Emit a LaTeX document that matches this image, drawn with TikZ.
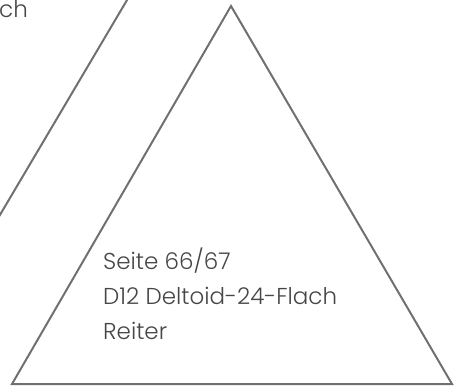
\documentclass[tikz,border=0pt]{standalone}
\usepackage{fontspec}
\setmainfont{Poppins}[UprightFont=* Light]
\usepackage{xcolor}
\definecolor{edgegray}{RGB}{112,112,112}
\definecolor{textgray}{RGB}{70,70,70}
\usepackage{tikz}

\begin{document}
\begin{tikzpicture}[x=1pt,y=-1pt]
                \useasboundingbox (0,0) rectangle (462,390);
                \clip (0,0) rectangle (462,390);
                \tikzset{facet/.style={draw=edgegray, line width=2pt, line join=miter},
                    tag/.style={text=textgray, inner sep=0, align=left, font=\fontsize{23}{35}\selectfont}}
                \coordinate (apex) at (231,6);
                \coordinate (bl) at (12,384);
                \coordinate (br) at (452,384);
                \coordinate (nbtop) at (130,-5);
                \coordinate (nbbot) at (-6,225);
                \draw[facet] (apex) -- (br) -- (bl) -- cycle;
                \draw[facet] (nbtop) -- (nbbot);
                \node [tag, anchor=base west] (nbtag) at (-1,18) {ch};
                \node [tag, anchor=north west] (tag) at (103,248) {Seite 66/67\\D12 Deltoid-24-Flach\\Reiter};
            \end{tikzpicture}
\end{document}
